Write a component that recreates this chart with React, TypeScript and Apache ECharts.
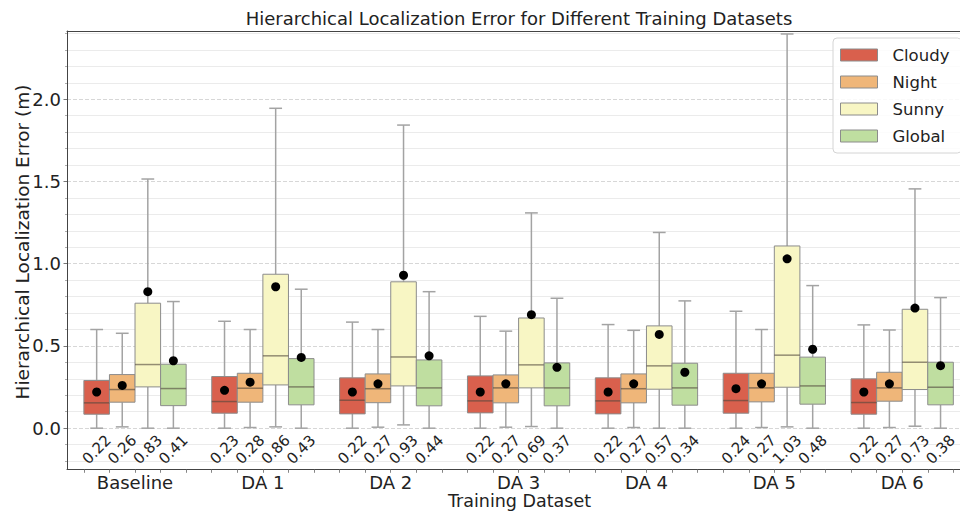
import React, { useEffect, useRef } from "react";
import * as echarts from "echarts";

const categories = ["Baseline", "DA 1", "DA 2", "DA 3", "DA 4", "DA 5", "DA 6"];
const seriesNames = ["Cloudy", "Night", "Sunny", "Global"];
const seriesColors = ["#d9604d", "#efb679", "#f8f6c4", "#bfdea0"];

// [whiskerLow, q1, median, q3, whiskerHigh] per training dataset
const cloudyStats = [
  [0.0, 0.085, 0.154, 0.29, 0.6],
  [0.0, 0.091, 0.162, 0.314, 0.65],
  [0.0, 0.087, 0.17, 0.306, 0.645],
  [0.0, 0.093, 0.166, 0.318, 0.68],
  [0.0, 0.087, 0.166, 0.306, 0.63],
  [0.0, 0.091, 0.168, 0.334, 0.711],
  [0.0, 0.085, 0.156, 0.3, 0.628],
];
const nightStats = [
  [0.008, 0.158, 0.235, 0.326, 0.577],
  [0.004, 0.158, 0.243, 0.334, 0.6],
  [0.006, 0.155, 0.24, 0.33, 0.6],
  [0.006, 0.154, 0.245, 0.324, 0.59],
  [0.004, 0.154, 0.24, 0.33, 0.595],
  [0.004, 0.16, 0.245, 0.334, 0.6],
  [0.004, 0.164, 0.245, 0.34, 0.597],
];
const sunnyStats = [
  [0.0, 0.251, 0.387, 0.76, 1.515],
  [0.008, 0.263, 0.44, 0.936, 1.945],
  [0.02, 0.257, 0.433, 0.89, 1.843],
  [0.01, 0.245, 0.385, 0.67, 1.309],
  [0.0, 0.237, 0.379, 0.622, 1.19],
  [0.008, 0.249, 0.444, 1.108, 2.397],
  [0.012, 0.235, 0.401, 0.723, 1.455],
];
const globalStats = [
  [0.0, 0.137, 0.241, 0.389, 0.77],
  [0.0, 0.142, 0.251, 0.423, 0.845],
  [0.0, 0.136, 0.245, 0.415, 0.83],
  [0.0, 0.136, 0.245, 0.397, 0.79],
  [0.0, 0.14, 0.245, 0.395, 0.774],
  [0.0, 0.146, 0.257, 0.432, 0.867],
  [0.0, 0.142, 0.249, 0.401, 0.794],
];

const cloudyMeans = [0.22, 0.23, 0.22, 0.22, 0.22, 0.24, 0.22];
const nightMeans = [0.26, 0.28, 0.27, 0.27, 0.27, 0.27, 0.27];
const sunnyMeans = [0.83, 0.86, 0.93, 0.69, 0.57, 1.03, 0.73];
const globalMeans = [0.41, 0.43, 0.44, 0.37, 0.34, 0.48, 0.38];

const yMajorTicks = [0, 0.5, 1.0, 1.5, 2.0];
const yMinorTicks = [
  -0.2, -0.1, 0.1, 0.2, 0.3, 0.4, 0.6, 0.7, 0.8, 0.9, 1.1, 1.2, 1.3, 1.4,
  1.6, 1.7, 1.8, 1.9, 2.1, 2.2, 2.3, 2.4,
];

const FONT = "'DejaVu Sans', 'Liberation Sans', sans-serif";
const GROUP = 5; // 4 boxes + 1 gap per dataset
const MEAN_LABEL_Y = -0.13;

export default function App() {
  const ref = useRef<HTMLDivElement>(null);

  useEffect(() => {
    if (!ref.current) return;
    const chart = echarts.init(ref.current, null, { renderer: "svg" });

    const statsBySeries = [cloudyStats, nightStats, sunnyStats, globalStats];
    const meansBySeries = [cloudyMeans, nightMeans, sunnyMeans, globalMeans];

    const groupCenters = categories.map((_, g) => g * GROUP + 1.5);
    const boxEdges: number[] = [];
    for (let k = -1; k < categories.length * GROUP - 1; k++) boxEdges.push(k + 0.5);

    const series = seriesNames.map((name, j) => ({
      type: "custom",
      name,
      xAxisIndex: 0,
      yAxisIndex: 0,
      clip: false,
      itemStyle: { color: seriesColors[j], borderColor: "#8a8a8a", borderWidth: 1 },
      encode: { x: 0, y: [1, 2, 3, 4, 5, 6] },
      data: statsBySeries[j].map((s, g) => [g * GROUP + j, ...s, meansBySeries[j][g]]),
      renderItem: (params: any, api: any) => {
        const u = api.value(0);
        const low = api.coord([u, api.value(1)]);
        const q1 = api.coord([u, api.value(2)]);
        const med = api.coord([u, api.value(3)]);
        const q3 = api.coord([u, api.value(4)]);
        const high = api.coord([u, api.value(5)]);
        const mean = api.value(6);
        const meanPt = api.coord([u, mean]);
        const labelPt = api.coord([u, MEAN_LABEL_Y]);
        const bw = api.size([1, 0])[0];
        const cx = low[0];
        const whisker = { stroke: "#a3a3a3", lineWidth: 1.5 };
        return {
          type: "group",
          children: [
            { type: "line", shape: { x1: cx, y1: q1[1], x2: cx, y2: low[1] }, style: whisker },
            { type: "line", shape: { x1: cx, y1: q3[1], x2: cx, y2: high[1] }, style: whisker },
            { type: "line", shape: { x1: cx - bw / 4, y1: low[1], x2: cx + bw / 4, y2: low[1] }, style: whisker },
            { type: "line", shape: { x1: cx - bw / 4, y1: high[1], x2: cx + bw / 4, y2: high[1] }, style: whisker },
            {
              type: "rect",
              shape: { x: cx - bw / 2, y: q3[1], width: bw, height: q1[1] - q3[1] },
              style: { fill: seriesColors[j], stroke: "#8c8c8c", lineWidth: 1 },
            },
            {
              type: "line",
              shape: { x1: cx - bw / 2, y1: med[1], x2: cx + bw / 2, y2: med[1] },
              style: { stroke: "rgba(80,70,60,0.6)", lineWidth: 1.5 },
            },
            {
              type: "circle",
              shape: { cx, cy: meanPt[1], r: 4.5 },
              style: { fill: "#000" },
              z2: 10,
            },
            {
              type: "text",
              x: labelPt[0],
              y: labelPt[1],
              rotation: Math.PI / 4,
              style: {
                text: mean.toFixed(2),
                font: `15px ${FONT}`,
                fill: "#222",
                align: "center",
                verticalAlign: "middle",
              },
            },
          ],
        };
      },
    }));

    const option: any = {
      animation: false,
      backgroundColor: "#fff",
      grid: { left: 67, right: -12, top: 31, bottom: 41.7, containLabel: false, outerBoundsMode: "none" },
      legend: {
        orient: "vertical",
        left: 833,
        top: 38,
        icon: "rect",
        itemWidth: 37,
        itemHeight: 12,
        itemGap: 7,
        padding: [7, 12, 7, 7],
        backgroundColor: "rgba(255,255,255,0.85)",
        borderColor: "#d4d4d4",
        borderWidth: 1,
        borderRadius: 4,
        textStyle: {
          fontFamily: FONT,
          fontSize: 16.5,
          color: "#222",
          lineHeight: 20,
          padding: [0, 0, 0, 10],
        },
        data: seriesNames.map((n, j) => ({
          name: n,
          itemStyle: { color: seriesColors[j], borderColor: "#8c8c8c", borderWidth: 1 },
        })),
      },
      graphic: [
        {
          type: "text",
          x: 519,
          y: 18,
          style: {
            text: "Hierarchical Localization Error for Different Training Datasets",
            font: `18px ${FONT}`,
            fill: "#222",
            textAlign: "center",
            textVerticalAlign: "middle",
            align: "center",
            verticalAlign: "middle",
          },
        },
        {
          type: "text",
          x: 22,
          y: 242,
          rotation: Math.PI / 2,
          style: {
            text: "Hierarchical Localization Error (m)",
            font: `18.5px ${FONT}`,
            fill: "#222",
            textAlign: "center",
            textVerticalAlign: "middle",
            align: "center",
            verticalAlign: "middle",
          },
        },
      ],
      xAxis: [
        {
          type: "value",
          position: "bottom",
          min: -1.16,
          max: 34.23,
          name: "Training Dataset",
          nameLocation: "middle",
          nameGap: 23,
          nameMoveOverlap: false,
          nameTextStyle: { fontFamily: FONT, fontSize: 17.5, lineHeight: 17, color: "#222", verticalAlign: "top" },
          axisLine: { show: true, onZero: false, lineStyle: { color: "#444", width: 1 } },
          axisTick: { show: true, customValues: boxEdges, length: 3.5, lineStyle: { color: "#666", width: 0.8 } },
          axisLabel: {
            customValues: groupCenters,
            margin: 4,
            fontFamily: FONT,
            fontSize: 18,
            lineHeight: 18,
            color: "#222",
            formatter: (v: number) => categories[Math.round((v - 1.5) / GROUP)] ?? "",
          },
          splitLine: { show: false },
        },
        {
          type: "value",
          position: "top",
          min: -1.16,
          max: 34.23,
          axisLine: { show: true, onZero: false, lineStyle: { color: "#444", width: 1 } },
          axisTick: { show: false },
          axisLabel: { show: false },
          splitLine: { show: false },
        },
      ],
      yAxis: [
        {
          type: "value",
          position: "left",
          min: -0.25,
          max: 2.415,
          axisLine: { show: true, onZero: false, lineStyle: { color: "#444", width: 1 } },
          axisTick: { show: true, customValues: yMajorTicks, length: 3.5, lineStyle: { color: "#555", width: 0.8 } },
          axisLabel: {
            customValues: yMajorTicks,
            margin: 6,
            fontFamily: FONT,
            fontSize: 18,
            color: "#222",
            formatter: (v: number) => v.toFixed(1),
          },
          splitLine: { show: true, lineStyle: { color: "#cdcdcd", type: [4, 2], width: 0.8 } },
        },
        {
          type: "value",
          position: "left",
          min: -0.25,
          max: 2.415,
          axisLine: { show: false, onZero: false },
          axisTick: { show: true, customValues: yMinorTicks, length: 2, lineStyle: { color: "#777", width: 0.6 } },
          axisLabel: { show: false },
          splitLine: { show: true, lineStyle: { color: "#e6e6e6", width: 0.8 } },
        },
      ],
      series,
    };

    chart.setOption(option);
    return () => chart.dispose();
  }, []);

  return (
    <div
      ref={ref}
      style={{ position: "fixed", left: 0, top: 0, width: 960, height: 511, background: "#fff" }}
    />
  );
}
